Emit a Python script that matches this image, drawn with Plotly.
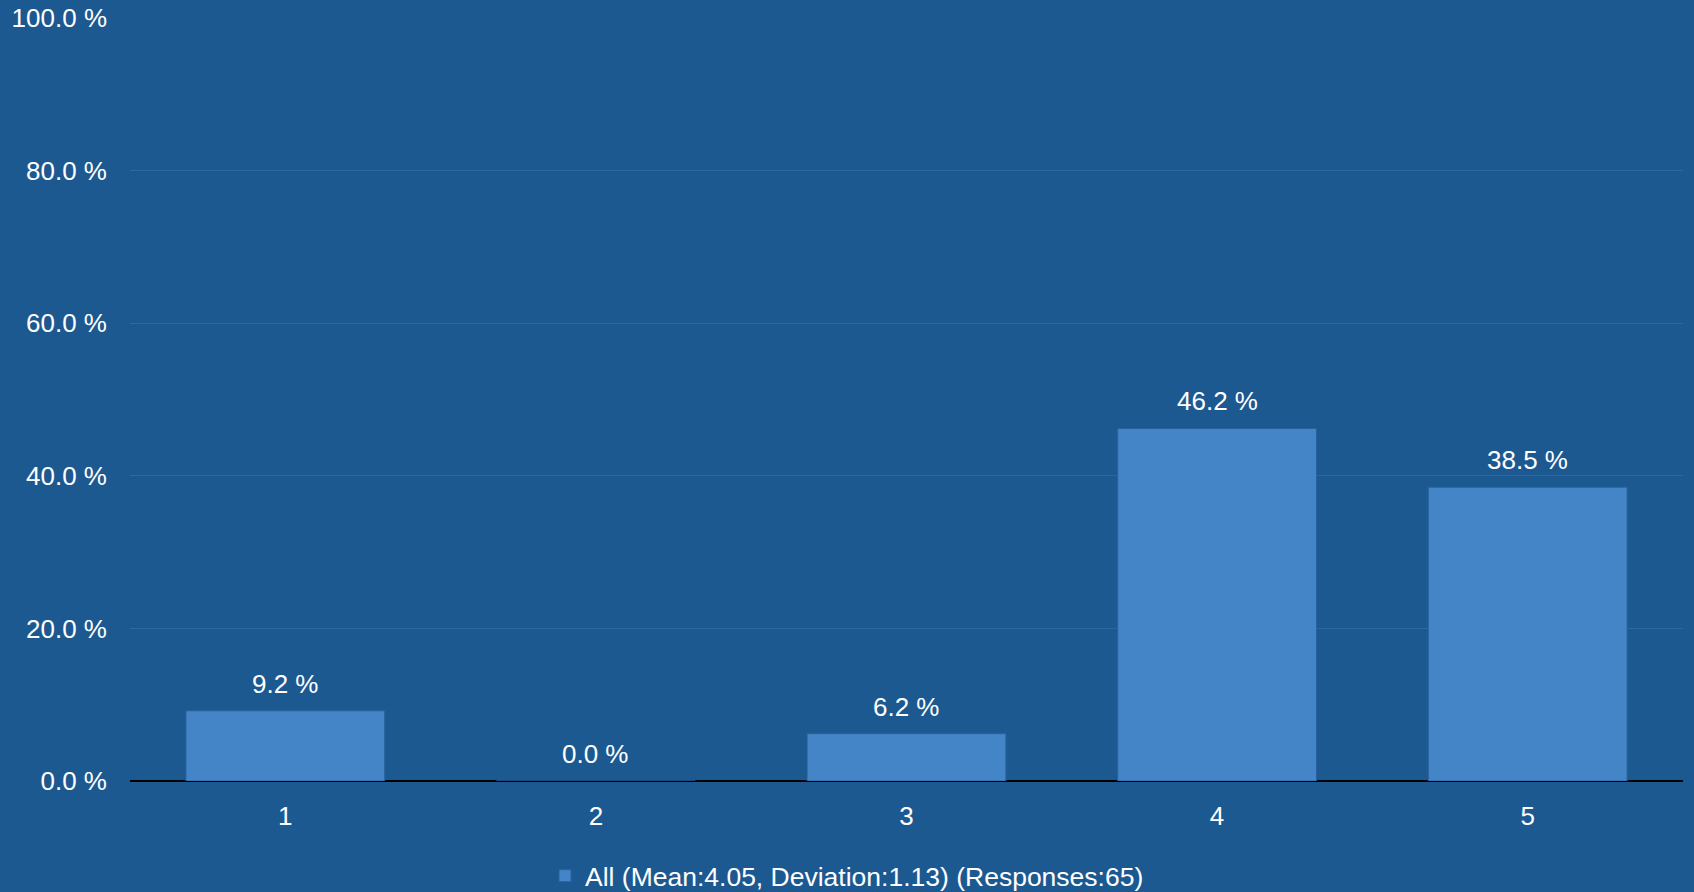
import plotly.graph_objects as go

categories = ["1", "2", "3", "4", "5"]
values = [9.2, 0.0, 6.2, 46.2, 38.5]
labels = ["9.2 %", "0.0 %", "6.2 %", "46.2 %", "38.5 %"]
tick_vals = [0, 20, 40, 60, 80, 100]
tick_text = ["0.0 %", "20.0 %", "40.0 %", "60.0 %", "80.0 %", "100.0 %"]
legend_name = "All (Mean:4.05, Deviation:1.13) (Responses:65)"

BG = "#1C5990"
FONT = "Liberation Sans, Arial, sans-serif"

fig = go.Figure()
fig.add_trace(go.Bar(
    x=categories, y=values, name=legend_name,
    marker=dict(color="#4385C6", line=dict(color="#2A62A0", width=1)),
    width=0.64,
))

for i, (v, t) in enumerate(zip(values, labels)):
    fig.add_annotation(x=i, y=v, text=t, showarrow=False, yanchor="bottom",
                       yshift=10, font=dict(color="white", size=26, family=FONT))

fig.update_layout(
    width=1694, height=892,
    paper_bgcolor=BG, plot_bgcolor=BG,
    margin=dict(l=130, r=11, t=18, b=111, autoexpand=False),
    font=dict(family=FONT, color="white", size=26),
    showlegend=True,
    legend=dict(orientation="h", xref="container", x=0.5, xanchor="center",
                yref="container", y=0.018, yanchor="middle",
                font=dict(size=26.5, color="white"), bgcolor="rgba(0,0,0,0)"),
    bargap=0.36,
)
fig.update_xaxes(type="category", range=[-0.5, 4.5], showgrid=False, showline=False,
                 ticks="", tickfont=dict(size=26), ticklabelstandoff=17)
fig.update_yaxes(range=[0, 100], tickvals=tick_vals, ticktext=tick_text,
                 showgrid=True, gridcolor="#2A69A2", gridwidth=1,
                 zeroline=True, zerolinecolor="black", zerolinewidth=2,
                 tickfont=dict(size=26), ticklabelstandoff=22)

fig.write_html("out.html")
